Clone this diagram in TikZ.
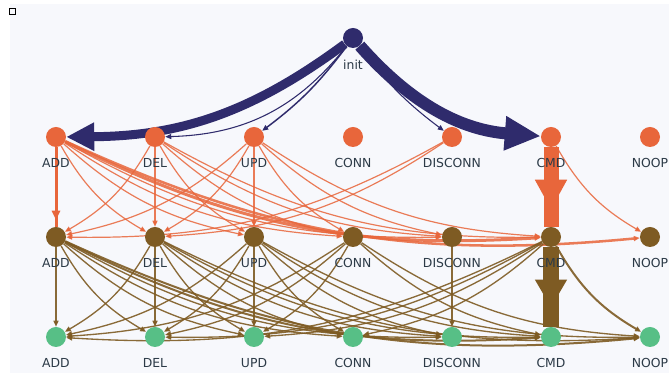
\documentclass[tikz,border=0pt]{standalone}
\usepackage{fontspec}
\setsansfont{DejaVu Sans}
\usetikzlibrary{arrows.meta}
\definecolor{initblue}{HTML}{2F2B6C}
\definecolor{actorange}{HTML}{E8663B}
\definecolor{actbrown}{HTML}{7E5B23}
\definecolor{actgreen}{HTML}{57BF86}
\definecolor{labelgray}{HTML}{2C3A47}
\definecolor{paper}{HTML}{F7F8FC}
\pgfdeclarelayer{edges}
\pgfsetlayers{edges,main}
\begin{document}
\begin{tikzpicture}[x=0.75pt,y=-0.75pt,
  state/.style={circle,inner sep=0pt,minimum size=15pt},
  lbl/.style={font=\sffamily\fontsize{9.3}{11}\selectfont,text=labelgray,inner sep=0pt},
  tip/.style={-{Triangle[length=4.5pt,width=3.8pt]}},
  oedge/.style={draw=actorange,draw opacity=0.85,line width=0.9pt,tip},
  bedge/.style={draw=actbrown,draw opacity=0.9,line width=1pt,tip},
  iedge/.style={draw=initblue,line width=0.8pt,tip}]
\useasboundingbox (0,0) rectangle (669,373);
\draw[line width=0.9pt] (9.5,8.5) rectangle (15.5,14.5);
\node[state,fill=initblue] (init) at (353,38) {};
\node[lbl] (initlbl) at (353,65) {init};
\foreach \n [count=\i from 0] in {ADD,DEL,UPD,CONN,DISCONN,CMD,NOOP}{
  \node[state,fill=actorange] (a\i) at (56+99*\i,137) {};
  \node[state,fill=actbrown] (b\i) at (56+99*\i,237) {};
  \node[state,fill=actgreen] (c\i) at (56+99*\i,337) {};
  \node[lbl] (al\i) at (56+99*\i,163) {\n};
  \node[lbl] (bl\i) at (56+99*\i,263) {\n};
  \node[lbl] (cl\i) at (56+99*\i,363) {\n};
}
\begin{pgfonlayer}{edges}
\fill[paper] (10,4) rectangle (669,373);
\draw[initblue,line width=6.75pt,-{Triangle[length=21pt,width=20pt]}] (init) to[bend left=18] (a0);
\draw[initblue,line width=9pt,-{Triangle[length=27pt,width=24pt]}] (init) to[bend right=22] (a5);
\draw[iedge] (init) to[bend left=25] (a1);
\draw[iedge,line width=1.1pt] (init) to[bend left=8] (a2);
\draw[iedge] (init) to[bend right=8] (a4);
\foreach \p/\q in {0/1,0/2,0/3,0/4,1/0,1/1,1/2,1/3,1/4,1/5,2/0,2/1,2/2,2/3,2/4,2/5,4/0,4/1,5/6}{
  \pgfmathsetmacro\bn{15*sign(\p-\q)}
  \draw[oedge] (a\p) to[bend left=\bn] (b\q);
}
\draw[actorange,line width=2.25pt] (a0) -- (b0);
\draw[actorange,line width=2.25pt,-{Triangle[length=7pt,width=6pt]},shorten >=5pt] (a0) -- (b0);
\draw[oedge,line width=2.25pt] (a0) to[bend right=15] (b5);
\draw[oedge,line width=1.9pt] (a0) to[bend right=15] (b6);
\draw[actorange,line width=11.25pt] (a5) -- (b5);
\draw[actorange,line width=11.25pt,-{Triangle[length=22.5pt,width=22.5pt]},shorten >=12.75pt] (a5) -- (b5);
\foreach \p/\q in {0/0,0/1,0/2,0/3,0/4,1/0,1/1,1/2,1/3,1/4,1/5,1/6,2/0,2/1,2/2,2/3,2/4,2/5,2/6,3/0,3/1,3/2,3/5,3/6,4/4,5/0,5/1,5/2,5/3}{
  \pgfmathsetmacro\bn{15*sign(\p-\q)}
  \draw[bedge] (b\p) to[bend left=\bn] (c\q);
}
\draw[bedge,line width=1.5pt] (b0) to[bend right=15] (c5);
\draw[bedge,line width=1.5pt] (b0) to[bend right=15] (c6);
\draw[bedge,line width=1.5pt] (b5) to[bend right=15] (c6);
\draw[actbrown,line width=12pt] (b5) -- (c5);
\draw[actbrown,line width=12pt,-{Triangle[length=21pt,width=22.5pt]},shorten >=14.25pt] (b5) -- (c5);
\end{pgfonlayer}
\end{tikzpicture}
\end{document}
